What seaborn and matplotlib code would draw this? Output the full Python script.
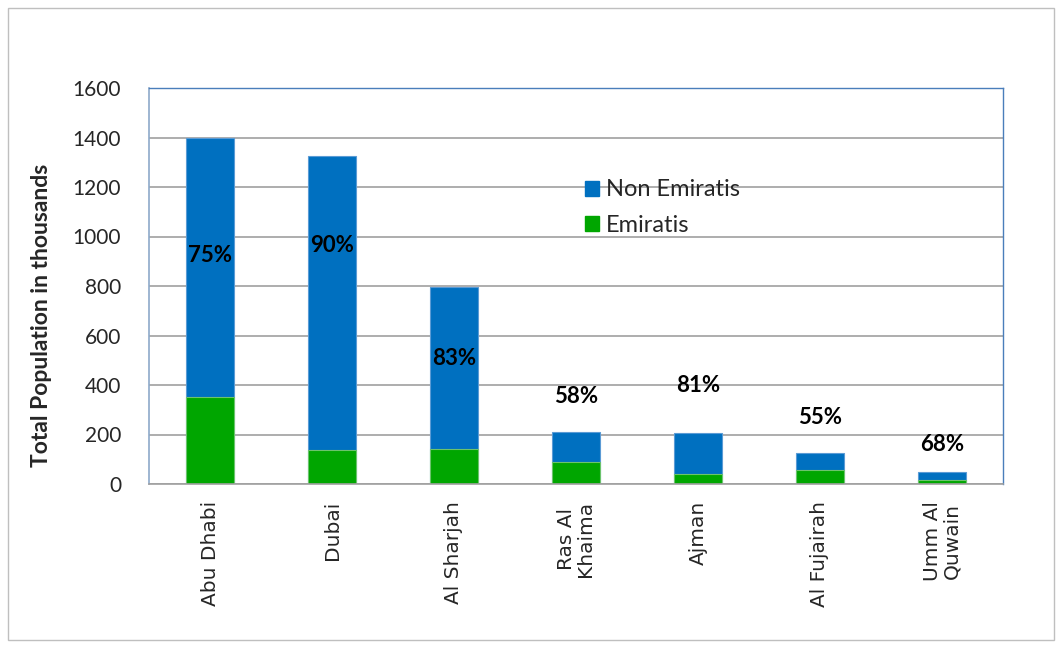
import matplotlib
matplotlib.use("Agg")
import matplotlib.pyplot as plt
import seaborn as sns
import numpy as np
from matplotlib.patches import Rectangle, Patch

# ---- data ----
emirates = ["Abu Dhabi", "Dubai", "Al Sharjah", "Ras Al\nKhaima", "Ajman",
            "Al Fujairah", "Umm Al\nQuwain"]
total_pop = [1400, 1325, 796, 210, 206, 125, 49]
emiratis = [350, 137, 141, 89, 40, 57, 16]
pct_labels = ["75%", "90%", "83%", "58%", "81%", "55%", "68%"]
pct_label_y = [925, 965, 509, 355, 396, 267, 158]
y_ticks = [0, 200, 400, 600, 800, 1000, 1200, 1400, 1600]

BLUE = "#0070C0"
GREEN = "#00A600"
GRID = "#A0A0A0"
FONT = "Lato"

sns.set_style("white")
plt.rcParams["font.family"] = [FONT, "DejaVu Sans"]

fig = plt.figure(figsize=(10.63, 6.46), dpi=100)
W, H = 1063, 646
ax = fig.add_axes([149 / W, 1 - 484 / H, (1003 - 149) / W, (484 - 88) / H])

# outer chart border
fig.patches.append(Rectangle((8 / W, 1 - 640 / H), (1054 - 8) / W, (640 - 8) / H,
                             transform=fig.transFigure, fill=False,
                             edgecolor="#BFBFBF", linewidth=1.0))

sns.barplot(x=emirates, y=total_pop, color=BLUE, saturation=1, width=0.4,
            edgecolor="#5B9BD5", linewidth=0.8, ax=ax, zorder=3)
sns.barplot(x=emirates, y=emiratis, color=GREEN, saturation=1, width=0.4,
            edgecolor="#6CC36C", linewidth=0.8, ax=ax, zorder=4)

for i, (lab, yv) in enumerate(zip(pct_labels, pct_label_y)):
    ax.text(i, yv, lab, ha="center", va="center", fontsize=16,
            fontweight="bold", color="black", zorder=6)

ax.set_ylim(0, 1600)
ax.set_xlim(-0.5, len(emirates) - 0.5)
ax.set_yticks(y_ticks)
ax.set_yticklabels([str(v) for v in y_ticks], fontsize=15)
ax.yaxis.grid(True, color=GRID, linewidth=1.2, zorder=0)
ax.set_axisbelow(True)

ax.set_xticks(range(len(emirates)))
ax.set_xticklabels(emirates, rotation=90, fontsize=14.5, family="DejaVu Sans",
                   va="top", ha="center", linespacing=1.0)
ax.tick_params(axis="x", which="major", length=0, pad=12)
ax.set_xticks(np.arange(-0.5, len(emirates)), minor=True)
ax.tick_params(axis="x", which="minor", length=8, color=GRID, width=1.2)
ax.tick_params(axis="y", length=8, color=GRID, width=1.2, pad=12)

ax.set_ylabel("Total Population in thousands", fontsize=16.5, fontweight="bold")
ax.yaxis.set_label_coords(-0.114, 0.427)
ax.set_xlabel("")

for side in ["top", "right"]:
    ax.spines[side].set_color("#4A7EBB")
    ax.spines[side].set_linewidth(1.0)
ax.spines["left"].set_color("#8EA9C9")
ax.spines["left"].set_linewidth(1.2)
ax.spines["bottom"].set_color(GRID)
ax.spines["bottom"].set_linewidth(1.2)
for s in ax.spines.values():
    s.set_zorder(5)

handles = [Patch(facecolor=BLUE, edgecolor=BLUE, label="Non Emiratis"),
           Patch(facecolor=GREEN, edgecolor=GREEN, label="Emiratis")]
ax.legend(handles=handles, loc="upper left", bbox_to_anchor=(0.499, 0.793),
          frameon=False, fontsize=17, handlelength=0.6, handleheight=0.6,
          handletextpad=0.3, labelspacing=0.6, borderaxespad=0)

fig.savefig("out.png", dpi=100)
